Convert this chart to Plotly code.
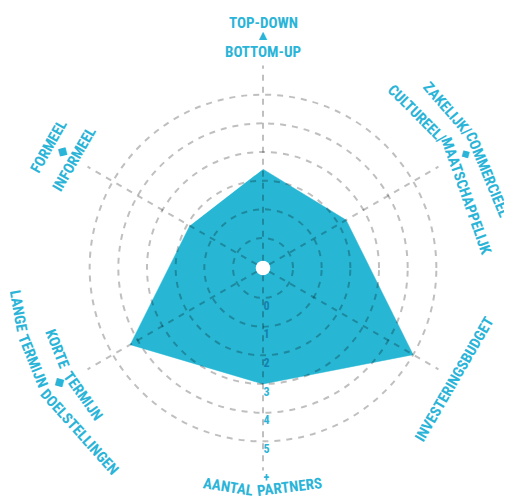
import math
import plotly.graph_objects as go

# ---------------- data ----------------
categories = [
    "TOP-DOWN / BOTTOM-UP",
    "ZAKELIJK/COMMERCIEEL / CULTUREEL/MAATSCHAPPELIJK",
    "INVESTERINGSBUDGET",
    "AANTAL PARTNERS",
    "KORTE TERMIJN / LANGE TERMIJN DOELSTELLINGEN",
    "FORMEEL / INFORMEEL",
]
values = [2.4, 2.3, 5.0, 3.0, 4.3, 1.9]
tick_values = [0, 1, 2, 3, 4, 5, 6]
tick_labels = ["0", "1", "2", "3", "4", "5", "+"]

# ---------------- styling / geometry ----------------
PAGE_OFF = 8               # default body margin of the html page
W, H = 512 - PAGE_OFF, 498 - PAGE_OFF
CX, CY = 263 - PAGE_OFF, 268 - PAGE_OFF   # centre of the web (figure px, y from top)
PX_PER_UNIT = 28.67
ZERO_R = 30.0              # px radius of value 0
HOLE_PX = 7.3
R_MIN = -(ZERO_R - HOLE_PX) / PX_PER_UNIT
GRID_MAX = 6.02
LABEL_MAX = 6.4
LABEL_SHIFT = 0.27

FILL = "#27b7d4"
TEAL = "#2ab4d8"
DARK = "#137fae"
GRID = "rgba(0,0,0,0.25)"
FONT = "Roboto Condensed, Liberation Sans Narrow, Roboto, sans-serif"
FSIZE = 15


def polar_domain(rmax):
    R = HOLE_PX + (rmax - R_MIN) * PX_PER_UNIT
    dom = dict(x=[(CX - R) / W, (CX + R) / W],
               y=[(H - CY - R) / H, (H - CY + R) / H])
    return dom, HOLE_PX / R


dom1, hole1 = polar_domain(LABEL_MAX)
dom2, hole2 = polar_domain(GRID_MAX)

fig = go.Figure()
fig.add_trace(go.Scatterpolar(
    r=values, theta=categories, fill="toself", fillcolor=FILL,
    mode="lines", line=dict(color=FILL, width=0.5), subplot="polar",
    hoverinfo="skip", showlegend=False))
fig.add_trace(go.Scatterpolar(
    r=values, theta=categories, mode="lines",
    line=dict(color="rgba(0,0,0,0)", width=0), subplot="polar2",
    hoverinfo="skip", showlegend=False))

tick_text = [
    "<span style='color:%s'>%s</span>" % (DARK if v + LABEL_SHIFT < values[3] else TEAL, t)
    for v, t in zip(tick_values, tick_labels)
]

fig.update_layout(
    width=W, height=H, margin=dict(l=0, r=0, t=0, b=0),
    paper_bgcolor="white", plot_bgcolor="white",
    polar=dict(
        domain=dom1, hole=hole1, bgcolor="white",
        radialaxis=dict(range=[R_MIN, LABEL_MAX], angle=-90, side="counterclockwise",
                        tickvals=[v + LABEL_SHIFT for v in tick_values], ticktext=tick_text,
                        tickangle=-90, showgrid=False, showline=False, ticks="",
                        tickfont=dict(family=FONT, size=12, color=TEAL, weight="bold")),
        angularaxis=dict(direction="clockwise", rotation=90, categoryarray=categories,
                         showgrid=False, showline=False, showticklabels=False, ticks=""),
    ),
    polar2=dict(
        domain=dom2, hole=hole2, bgcolor="rgba(0,0,0,0)",
        radialaxis=dict(range=[R_MIN, GRID_MAX], angle=-90, tickvals=tick_values,
                        showticklabels=False, showline=False, ticks="",
                        showgrid=True, gridcolor=GRID, gridwidth=1.5, griddash="6px,6px"),
        angularaxis=dict(direction="clockwise", rotation=90, categoryarray=categories,
                         showgrid=True, gridcolor=GRID, gridwidth=1.5, griddash="6px,6px",
                         showline=False, showticklabels=False, ticks=""),
    ),
)

# ---------------- curved-ish axis labels ----------------
annotations = []


def add_text(text, x, y, angle, size=FSIZE):
    annotations.append(dict(
        text=text, x=x / W, y=(H - y) / H, xref="paper", yref="paper",
        showarrow=False, xanchor="center", yanchor="middle", textangle=angle,
        font=dict(family=FONT, size=size, color=TEAL, weight="bold")))


def tangent_angle(a, clockwise):
    t = (90 - a) if clockwise else (-90 - a)
    while t > 180:
        t -= 360
    while t < -180:
        t += 360
    return t


def arc_label(full, segments, r, a0, a1):
    clockwise = a1 < a0
    n = len(full)
    pos = 0
    for seg in segments:
        i = full.index(seg, pos)
        pos = i + len(seg)
        frac = (i + len(seg) / 2.0) / n
        a = a0 + (a1 - a0) * frac
        h = math.radians(abs(a1 - a0) * len(seg) / n / 2.0)
        d = r * (1 + math.cos(h)) / 2.0
        x = CX + d * math.cos(math.radians(a))
        y = CY - d * math.sin(math.radians(a))
        add_text(seg.strip(), x, y, tangent_angle(a, clockwise))


def icon(sym, r, a, clockwise, size=13):
    x = CX + r * math.cos(math.radians(a))
    y = CY - r * math.sin(math.radians(a))
    add_text(sym, x, y, tangent_angle(a, clockwise), size)


# top
arc_label("TOP-DOWN", ["TOP-DOWN"], 246, 98, 82)
icon("▲", 233, 90, True, 14)
arc_label("BOTTOM-UP", ["BOTTOM-UP"], 217, 99, 81)
# upper right
arc_label("ZAKELIJK/COMMERCIEEL", ["ZAKELIJK/", "COMMERCIEEL"], 245, 49, 12.5)
icon("◆", 233, 29.5, True, 11)
arc_label("CULTUREEL/MAATSCHAPPELIJK", ["CULTUREEL/", "MAATSCHAPPELIJK"], 219, 55.2, 4.1)
# lower right
arc_label("INVESTERINGSBUDGET", ["INVESTERINGSBUDGET"], 227, -47.7, -12.6)
# bottom
arc_label("AANTAL PARTNERS", ["AANTAL", "PARTNERS"], 222, -105, -75)
# lower left
arc_label("KORTE TERMIJN", ["KORTE", "TERMIJN"], 222, 196.6, 222.4)
icon("◆", 233, 209.5, False)
arc_label("LANGE TERMIJN DOELSTELLINGEN", ["LANGE", "TERMIJN", "DOELSTELLINGEN"], 249, 185.7, 233.8)
# upper left
arc_label("FORMEEL", ["FORMEEL"], 247, 157.3, 143.5)
icon("◆", 233, 150, True)
arc_label("INFORMEEL", ["INFORMEEL"], 219, 159.4, 140.7)

fig.update_layout(annotations=annotations)
fig.write_html("out.html")
